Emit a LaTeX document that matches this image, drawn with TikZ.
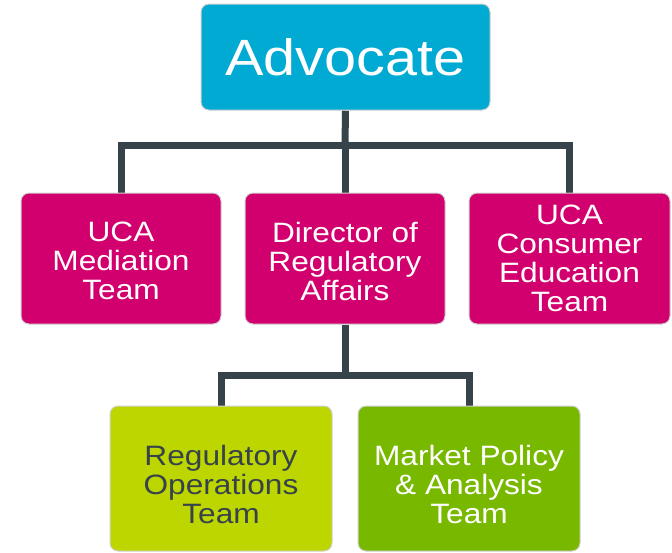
\documentclass[tikz,border=0pt]{standalone}
\usepackage{fontspec}
\setmainfont[FakeStretch=1.13]{Liberation Sans}
\usetikzlibrary{backgrounds}
\definecolor{cyanbox}{HTML}{00AAD2}
\definecolor{magbox}{HTML}{D2006E}
\definecolor{limebox}{HTML}{BED600}
\definecolor{greenbox}{HTML}{78B900}
\definecolor{conn}{HTML}{36434B}
\definecolor{edge}{HTML}{D0D0D0}
\begin{document}
\begin{tikzpicture}[x=1pt,y=-1pt,
  box/.style={draw=edge,line width=1pt,rounded corners=8pt,inner sep=0pt},
  topbox/.style={box,fill=magbox,minimum width=200pt,minimum height=131pt},
  lowbox/.style={box,minimum width=222pt,minimum height=145pt},
  lbl/.style={align=center,inner sep=0pt,text=white,font=\fontsize{28}{29}\selectfont},
  link/.style={draw=conn,line width=7pt}]
\useasboundingbox (0,0) rectangle (672,552);
% boxes
\node[box,fill=cyanbox,minimum width=289pt,minimum height=106pt] (adv) at (345.5,57) {};
\node[topbox] (med) at (121,258.5) {};
\node[topbox] (dir) at (345,258.5) {};
\node[topbox,minimum width=201pt] (edu) at (569.5,258.5) {};
\node[lowbox,fill=limebox] (ops) at (221,478.5) {};
\node[lowbox,fill=greenbox] (mkt) at (469,478.5) {};
% labels
\node[lbl,font=\fontsize{51}{55}\selectfont] (advT) at (adv.center) {Advocate};
\node[lbl] (medT) at ([yshift=-2.5pt]med.center) {UCA\\Mediation\\Team};
\node[lbl] (dirT) at ([yshift=-2.5pt]dir.center) {Director of\\Regulatory\\Affairs};
\node[lbl] (eduT) at (edu.center) {UCA\\Consumer\\Education\\Team};
\node[lbl,text=conn] (opsT) at ([yshift=-6pt]ops.center) {Regulatory\\Operations\\Team};
\node[lbl] (mktT) at ([yshift=-6pt]mkt.center) {Market Policy\\\& Analysis\\Team};
% connectors
\coordinate (j1) at (345,145);
\coordinate (j2) at (345,375);
\begin{scope}[on background layer]
\draw[link] (adv.south) -- (j1);
\draw[link] (med.north) |- (j1) -| (edu.north);
\draw[link] (j1) -- (dir.north);
\draw[link] (dir.south) -- (j2);
\draw[link] (ops.north) |- (j2) -| (mkt.north);
\end{scope}
\end{tikzpicture}
\end{document}
